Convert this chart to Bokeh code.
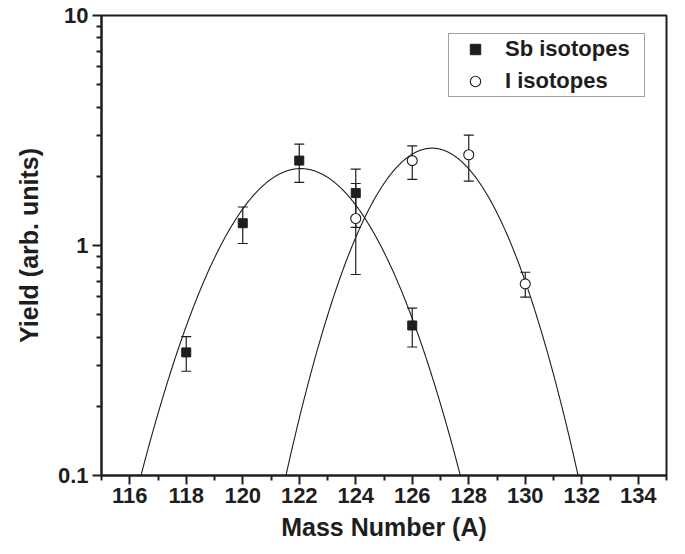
import numpy as np
from bokeh.plotting import figure
from bokeh.models import (ColumnDataSource, Whisker, TeeHead, FixedTicker,
                          CustomJSTickFormatter, Legend, LegendItem)
from bokeh.embed import file_html
from bokeh.resources import INLINE

# ---- data ----
sb_mass = [118, 120, 122, 124, 126]
sb_yield = [0.343, 1.25, 2.34, 1.69, 0.449]
sb_upper = [0.402, 1.47, 2.76, 2.15, 0.534]
sb_lower = [0.284, 1.02, 1.88, 1.20, 0.362]

i_mass = [124, 126, 128, 130]
i_yield = [1.31, 2.34, 2.48, 0.681]
i_upper = [1.86, 2.71, 3.02, 0.765]
i_lower = [0.748, 1.94, 1.905, 0.596]

# Gaussian fit parameters (amplitude, centroid, sigma)
sb_fit_amp, sb_fit_centre, sb_fit_sigma = 2.16, 122.05, 2.28
i_fit_amp, i_fit_centre, i_fit_sigma = 2.65, 126.7, 2.02

x_ticks = [116, 118, 120, 122, 124, 126, 128, 130, 132, 134]
x_minor_ticks = [115, 117, 119, 121, 123, 125, 127, 129, 131, 133, 135]
y_ticks = [0.1, 1, 10]
y_minor_ticks = [0.2, 0.3, 0.4, 0.5, 0.6, 0.7, 0.8, 0.9, 2, 3, 4, 5, 6, 7, 8, 9]

FONT = "Liberation Sans"
INK = "#1e1e1e"

p = figure(width=685, height=552, x_range=(115, 135), y_range=(0.1, 10),
           y_axis_type="log", output_backend="svg", toolbar_location=None,
           min_border_left=101, min_border_right=19, min_border_top=15,
           min_border_bottom=77)
p.xgrid.visible = False
p.ygrid.visible = False
p.outline_line_color = INK
p.outline_line_width = 2
p.outline_line_alpha = 1
p.background_fill_color = "white"
p.border_fill_color = "white"

# ---- fit curves ----
def gauss(amp, c, s, x):
    return amp * np.exp(-(x - c) ** 2 / (2 * s ** 2))

xs = np.linspace(115, 135, 1001)
for amp, c, s in [(sb_fit_amp, sb_fit_centre, sb_fit_sigma),
                  (i_fit_amp, i_fit_centre, i_fit_sigma)]:
    ys = gauss(amp, c, s, xs)
    m = ys > 0.06
    p.line(xs[m], ys[m], line_color=INK, line_width=1.1)

# ---- error bars ----
sb_src = ColumnDataSource(dict(x=sb_mass, y=sb_yield, up=sb_upper, lo=sb_lower))
i_src = ColumnDataSource(dict(x=i_mass, y=i_yield, up=i_upper, lo=i_lower))
for src in (sb_src, i_src):
    w = Whisker(source=src, base="x", upper="up", lower="lo", dimension="height",
                line_color=INK, line_width=1.2,
                upper_head=TeeHead(size=10, line_color=INK, line_width=1.2),
                lower_head=TeeHead(size=10, line_color=INK, line_width=1.2))
    p.add_layout(w)

sq = p.scatter("x", "y", source=sb_src, marker="square", size=9,
               fill_color=INK, line_color=INK, line_width=1)
ci = p.scatter("x", "y", source=i_src, marker="circle", size=10,
               fill_color="white", line_color=INK, line_width=1.1)

# ---- axes ----
p.xaxis.ticker = FixedTicker(ticks=x_ticks, minor_ticks=x_minor_ticks)
p.yaxis.ticker = FixedTicker(ticks=y_ticks, minor_ticks=y_minor_ticks)
p.yaxis.formatter = CustomJSTickFormatter(code="return tick.toString();")
for ax in (p.xaxis, p.yaxis):
    ax.axis_line_color = INK
    ax.axis_line_width = 2
    ax.major_tick_line_color = INK
    ax.major_tick_line_width = 2
    ax.minor_tick_line_color = INK
    ax.minor_tick_line_width = 2
    ax.major_tick_in = 0
    ax.major_tick_out = 9
    ax.minor_tick_in = 0
    ax.minor_tick_out = 5
    ax.major_label_text_font = FONT
    ax.major_label_text_font_style = "bold"
    ax.major_label_text_font_size = "22px"
    ax.major_label_text_color = INK
    ax.axis_label_text_font = FONT
    ax.axis_label_text_font_style = "bold"
    ax.axis_label_text_font_size = "25px"
    ax.axis_label_text_color = INK

p.xaxis.axis_label = "Mass Number (A)"
p.yaxis.axis_label = "Yield (arb. units)"
p.xaxis.major_label_standoff = 3
p.yaxis.major_label_standoff = 4
p.xaxis.axis_label_standoff = 7
p.yaxis.axis_label_standoff = 12

# ---- legend ----
legend = Legend(items=[LegendItem(label="Sb isotopes", renderers=[sq]),
                       LegendItem(label="I isotopes", renderers=[ci])],
                location=(347, 378), padding=2, spacing=6,
                glyph_width=48, glyph_height=26, label_height=26,
                label_standoff=6, label_width=137,
                label_text_font=FONT, label_text_font_style="bold",
                label_text_font_size="22px", label_text_color=INK,
                border_line_color="#444444", border_line_width=1,
                background_fill_color="white", background_fill_alpha=1)
p.add_layout(legend)

open("out.html", "w").write(file_html(p, INLINE))
